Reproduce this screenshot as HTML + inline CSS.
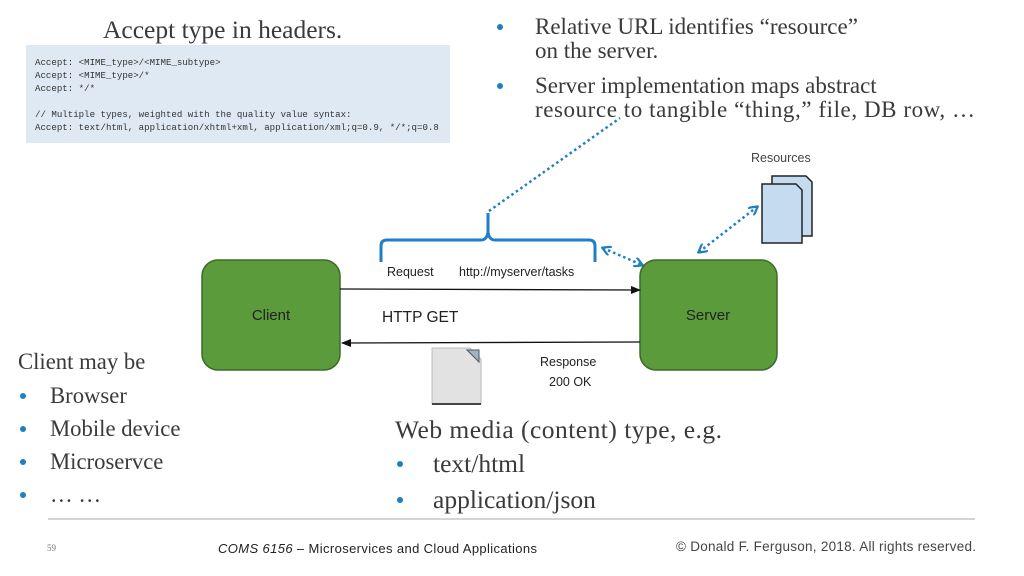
<!DOCTYPE html>
<html><head><meta charset="utf-8"><style>
html,body{margin:0;padding:0;background:#fff;width:1024px;height:576px;overflow:hidden}
svg{display:block}
.serif{font-family:"Liberation Serif",serif;fill:#3a3a3a}
.sans{font-family:"Liberation Sans",sans-serif;fill:#222}
.mono{font-family:"Liberation Mono",monospace;fill:#333;font-size:9.1px}
.b{fill:#1f7fc4}
</style></head><body>
<svg width="1024" height="576" viewBox="0 0 1024 576" xmlns="http://www.w3.org/2000/svg">
<defs>
<marker id="ah" markerWidth="10" markerHeight="8" refX="9" refY="4" orient="auto" markerUnits="userSpaceOnUse"><path d="M0,0 L10,4 L0,8 z" fill="#111"/></marker>
<marker id="bh" markerWidth="10" markerHeight="10" refX="8" refY="5" orient="auto-start-reverse" markerUnits="userSpaceOnUse"><path d="M0,0 L9,5 L0,10" fill="none" stroke="#1f7fc4" stroke-width="2.2"/></marker>
</defs>
<text x="103" y="38" class="serif" font-size="25.5">Accept type in headers.</text>
<rect x="26" y="45" width="424" height="98" fill="#dfe9f3"/>
<text x="35" y="65" class="mono">Accept: &lt;MIME_type&gt;/&lt;MIME_subtype&gt;</text>
<text x="35" y="78" class="mono">Accept: &lt;MIME_type&gt;/*</text>
<text x="35" y="91" class="mono">Accept: */*</text>
<text x="35" y="117" class="mono">// Multiple types, weighted with the quality value syntax:</text>
<text x="35" y="130" class="mono">Accept: text/html, application/xhtml+xml, application/xml;q=0.9, */*;q=0.8</text>

<g class="serif" font-size="23">
<circle cx="500" cy="27" r="3" class="b"/>
<text x="535" y="34">Relative URL identifies “resource”</text>
<text x="535" y="58">on the server.</text>
<circle cx="500" cy="86" r="3" class="b"/>
<text x="535" y="93">Server implementation maps abstract</text>
<text x="535" y="117" textLength="440">resource to tangible “thing,” file, DB row, …</text>
</g>

<path d="M381,262 L381,246 Q381,240 387,240 L481,240 Q487,240 488,232 L488,213 M488,213 L488,232 Q489,240 495,240 L589,240 Q595,240 595,246 L595,262" fill="none" stroke="#1f7fc4" stroke-width="3"/>
<line x1="489" y1="211" x2="620" y2="118" stroke="#1f7fc4" stroke-width="2.5" stroke-dasharray="2.5,3"/>
<line x1="603" y1="248" x2="642" y2="265" stroke="#1f7fc4" stroke-width="2.5" stroke-dasharray="2.5,3" marker-start="url(#bh)" marker-end="url(#bh)"/>
<line x1="699" y1="252" x2="757" y2="207" stroke="#1f7fc4" stroke-width="2.5" stroke-dasharray="2.5,3" marker-start="url(#bh)" marker-end="url(#bh)"/>

<text x="751" y="162" class="sans" font-size="12.5" style="fill:#444">Resources</text>
<path d="M772,176 L806,176 L812,182 L812,236 L772,236 z" fill="#c5dbef" stroke="#222" stroke-width="1.5"/>
<path d="M762,184 L796,184 L802,190 L802,243 L762,243 z" fill="#c5dbef" stroke="#222" stroke-width="1.5"/>

<rect x="202" y="260" width="138" height="110" rx="16" fill="#5b9b3b" stroke="#3b6b28" stroke-width="1.5"/>
<text x="271" y="320" class="sans" font-size="15" text-anchor="middle">Client</text>
<rect x="640" y="260" width="137" height="110" rx="16" fill="#5b9b3b" stroke="#3b6b28" stroke-width="1.5"/>
<text x="708" y="320" class="sans" font-size="15" text-anchor="middle">Server</text>

<line x1="340" y1="289" x2="640" y2="290" stroke="#111" stroke-width="1.3" marker-end="url(#ah)"/>
<line x1="640" y1="342" x2="342" y2="343" stroke="#111" stroke-width="1.3" marker-end="url(#ah)"/>
<text x="387" y="276" class="sans" font-size="12.5">Request</text>
<text x="459" y="276" class="sans" font-size="12.5">http://myserver/tasks</text>
<text x="382" y="322" class="sans" font-size="15.5">HTTP GET</text>
<text x="540" y="366" class="sans" font-size="12.5">Response</text>
<text x="549" y="386" class="sans" font-size="12.5">200 OK</text>
<path d="M432,348 L470,348 L481,359 L481,404 L432,404 z" fill="#e2e2e2" stroke="#bbb"/>
<path d="M467,350 L479,350 L479,362 z" fill="#9bb3cc" stroke="#555"/>
<line x1="432" y1="404" x2="481" y2="404" stroke="#444" stroke-width="2"/>

<g class="serif" font-size="22.7">
<text x="18" y="369">Client may be</text>
<circle cx="23" cy="396" r="3" class="b"/><text x="50" y="403">Browser</text>
<circle cx="23" cy="429" r="3" class="b"/><text x="50" y="436">Mobile device</text>
<circle cx="23" cy="462" r="3" class="b"/><text x="50" y="469">Microservce</text>
<circle cx="23" cy="495" r="3" class="b"/><text x="50" y="502">… …</text>
</g>
<g class="serif" font-size="25.5">
<text x="395" y="438" textLength="327">Web media (content) type, e.g.</text>
<circle cx="400" cy="464" r="3" class="b"/><text x="433" y="472">text/html</text>
<circle cx="400" cy="500" r="3" class="b"/><text x="433" y="508">application/json</text>
</g>

<line x1="48" y1="519" x2="975" y2="519" stroke="#aaa" stroke-width="1"/>
<text x="47" y="551" class="serif" font-size="9" style="fill:#777">59</text>
<text x="218" y="553" class="sans" font-size="13" textLength="319"><tspan font-style="italic">COMS 6156</tspan> – Microservices and Cloud Applications</text>
<text x="676" y="551" class="sans" font-size="13.5" textLength="300" style="fill:#444">© Donald F. Ferguson, 2018. All rights reserved.</text>
</svg>
</body></html>
